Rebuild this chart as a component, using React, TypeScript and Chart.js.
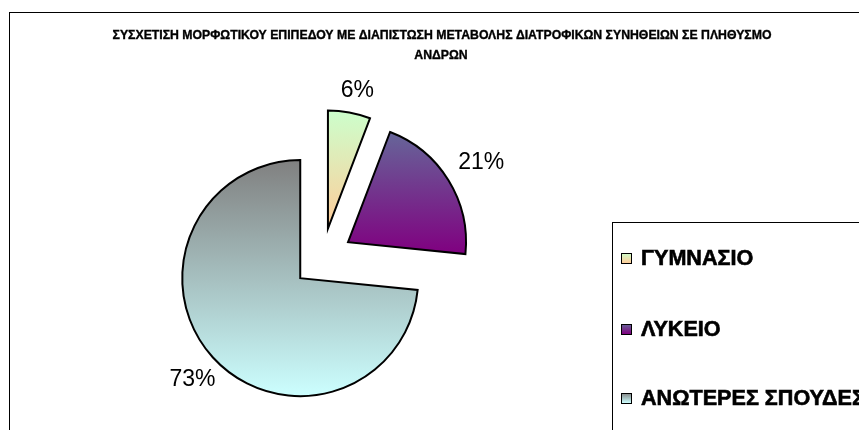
import React, { useEffect, useRef } from "react";
import { Chart, registerables } from "chart.js";

Chart.register(...registerables);

// ---- data ----
const titleLines = [
  "ΣΥΣΧΕΤΙΣΗ ΜΟΡΦΩΤΙΚΟΥ ΕΠΙΠΕΔΟΥ ΜΕ ΔΙΑΠΙΣΤΩΣΗ ΜΕΤΑΒΟΛΗΣ ΔΙΑΤΡΟΦΙΚΩΝ ΣΥΝΗΘΕΙΩΝ ΣΕ ΠΛΗΘΥΣΜΟ",
  "ΑΝΔΡΩΝ",
];
const categories = ["ΓΥΜΝΑΣΙΟ", "ΛΥΚΕΙΟ", "ΑΝΩΤΕΡΕΣ ΣΠΟΥΔΕΣ"];
const shares = [5.8, 20.8, 73.4];
const percentLabels = ["6%", "21%", "73%"];
const gradientTop = ["#ccffcc", "#666699", "#808080"];
const gradientBottom = ["#ffcc99", "#800080", "#ccffff"];

// ---- style constants ----
const W = 859;
const H = 430;
const CENTER_X = 322.5;
const CENTER_Y = 258;
const RADIUS = 118;
const EXPLODE = 30;
const FONT = "'Liberation Sans', Arial, sans-serif";
const TITLE_WIDTH = 660;
const LEGEND_LONGEST_WIDTH = 224;

function sliceGeometry(chart: any, i: number) {
  const ca = chart.chartArea;
  const cx = (ca.left + ca.right) / 2;
  const cy = (ca.top + ca.bottom) / 2;
  const total = shares.reduce((a, b) => a + b, 0);
  let before = 0;
  for (let k = 0; k < i; k++) before += shares[k];
  const start = -Math.PI / 2 + (2 * Math.PI * before) / total;
  const end = start + (2 * Math.PI * shares[i]) / total;
  const mid = (start + end) / 2;
  const ox = cx + Math.cos(mid) * EXPLODE;
  const oy = cy + Math.sin(mid) * EXPLODE;
  let minY = oy;
  let maxY = oy;
  const steps = 200;
  for (let s = 0; s <= steps; s++) {
    const a = start + ((end - start) * s) / steps;
    const y = oy + RADIUS * Math.sin(a);
    if (y < minY) minY = y;
    if (y > maxY) maxY = y;
  }
  return { start, end, mid, ox, oy, minY, maxY };
}

function fitSize(ctx: CanvasRenderingContext2D, text: string, weight: string, target: number) {
  ctx.font = `${weight} 20px ${FONT}`;
  const w = ctx.measureText(text).width;
  return (20 * target) / w;
}

const explodePlugin = {
  id: "explodeSlices",
  afterDatasetsUpdate(chart: any) {
    const meta = chart.getDatasetMeta(0);
    meta.data.forEach((arc: any) => {
      const mid = (arc.startAngle + arc.endAngle) / 2;
      arc.x += Math.cos(mid) * EXPLODE;
      arc.y += Math.sin(mid) * EXPLODE;
    });
  },
};

const decorPlugin = {
  id: "decor",
  beforeDraw(chart: any) {
    const ctx = chart.ctx;
    ctx.save();
    ctx.fillStyle = "#ffffff";
    ctx.fillRect(0, 0, W, H);
    // outer frame
    ctx.strokeStyle = "#000000";
    ctx.lineWidth = 1;
    ctx.strokeRect(9.5, 12.5, 880, 440);
    // title
    const tSize = fitSize(ctx, titleLines[0], "bold", TITLE_WIDTH);
    ctx.fillStyle = "#000000";
    ctx.strokeStyle = "#000000";
    ctx.font = `bold ${tSize}px ${FONT}`;
    ctx.textAlign = "center";
    ctx.textBaseline = "middle";
    ctx.lineWidth = 0.35;
    ctx.fillText(titleLines[0], 442, 36);
    ctx.strokeText(titleLines[0], 442, 36);
    ctx.fillText(titleLines[1], 441, 56);
    ctx.strokeText(titleLines[1], 441, 56);
    // legend box
    ctx.lineWidth = 1;
    ctx.strokeRect(612.5, 222.5, 400, 300);
    const lSize = fitSize(ctx, categories[2], "bold", LEGEND_LONGEST_WIDTH);
    const itemY = [258, 329, 398];
    categories.forEach((label, i) => {
      const y = itemY[i];
      const g = ctx.createLinearGradient(0, y - 5, 0, y + 5);
      g.addColorStop(0, gradientTop[i]);
      g.addColorStop(1, gradientBottom[i]);
      ctx.fillStyle = g;
      ctx.fillRect(621, y - 5, 10, 10);
      ctx.strokeStyle = "#000000";
      ctx.lineWidth = 1;
      ctx.strokeRect(621.5, y - 4.5, 10, 10);
      ctx.fillStyle = "#000000";
      ctx.font = `bold ${lSize}px ${FONT}`;
      ctx.textAlign = "left";
      ctx.textBaseline = "middle";
      ctx.lineWidth = 0.6;
      ctx.fillText(label, 641, y + 1);
      ctx.strokeText(label, 641, y + 1);
    });
    ctx.restore();
  },
  afterDatasetsDraw(chart: any) {
    const ctx = chart.ctx;
    const meta = chart.getDatasetMeta(0);
    ctx.save();
    ctx.font = `23px ${FONT}`;
    ctx.fillStyle = "#000000";
    ctx.textAlign = "center";
    ctx.textBaseline = "middle";
    meta.data.forEach((arc: any, i: number) => {
      const mid = (arc.startAngle + arc.endAngle) / 2;
      const dx = Math.cos(mid);
      const dy = Math.sin(mid);
      const text = percentLabels[i];
      const hw = ctx.measureText(text).width / 2;
      const hh = 10;
      const extent = Math.abs(dx) * hw + Math.abs(dy) * hh;
      const dist = RADIUS + 9 + extent;
      ctx.fillText(text, arc.x + dx * dist + 4, arc.y + dy * dist);
    });
    ctx.restore();
  },
};

export default function App() {
  const canvasRef = useRef<HTMLCanvasElement | null>(null);

  useEffect(() => {
    const canvas = canvasRef.current;
    if (!canvas) return;
    const half = 150;
    const chart = new Chart(canvas, {
      type: "pie",
      data: {
        labels: categories,
        datasets: [
          {
            data: shares,
            backgroundColor: (ctx: any) => {
              const i = ctx.dataIndex;
              const chartObj = ctx.chart;
              if (!chartObj.chartArea || i === undefined) return gradientTop[i ?? 0];
              const geo = sliceGeometry(chartObj, i);
              const g = chartObj.ctx.createLinearGradient(0, geo.minY, 0, geo.maxY);
              g.addColorStop(0, gradientTop[i]);
              g.addColorStop(1, gradientBottom[i]);
              return g;
            },
            borderColor: "#000000",
            borderWidth: 2,
            borderJoinStyle: "miter",
          } as any,
        ],
      },
      options: {
        responsive: false,
        animation: false,
        events: [],
        radius: RADIUS,
        layout: {
          padding: {
            left: CENTER_X - half,
            right: W - (CENTER_X + half),
            top: CENTER_Y - half,
            bottom: H - (CENTER_Y + half),
          },
        },
        plugins: {
          legend: { display: false },
          tooltip: { enabled: false },
          title: { display: false },
        },
      } as any,
      plugins: [explodePlugin, decorPlugin],
    });
    return () => chart.destroy();
  }, []);

  return (
    <div
      style={{
        position: "fixed",
        left: 0,
        top: 0,
        width: W,
        height: H,
        overflow: "hidden",
        background: "#fff",
      }}
    >
      <canvas ref={canvasRef} width={W} height={H} style={{ display: "block" }} />
    </div>
  );
}
